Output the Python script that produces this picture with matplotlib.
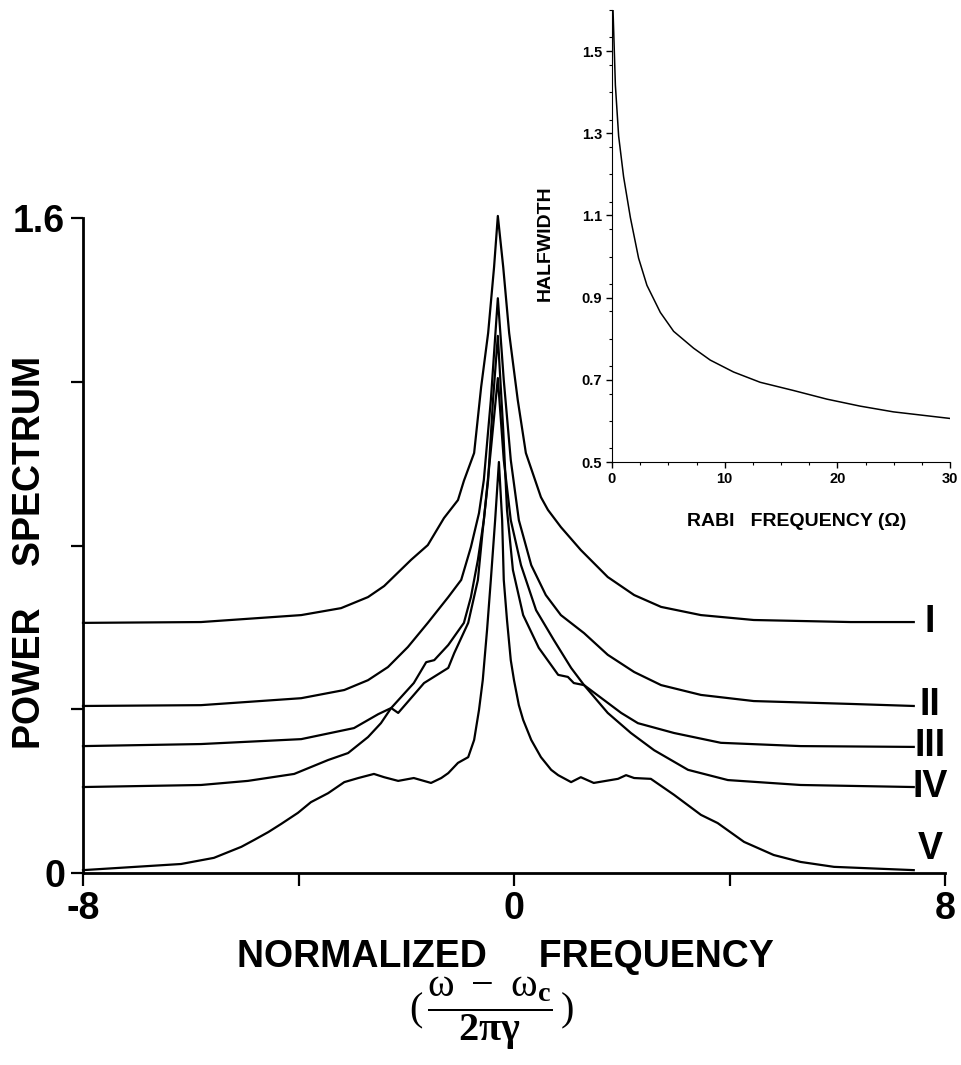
import matplotlib
matplotlib.use("Agg")
import matplotlib.pyplot as plt
from matplotlib.ticker import MultipleLocator

plt.rcParams['font.family'] = ['Liberation Sans', 'DejaVu Sans']
plt.rcParams['mathtext.fontset'] = 'custom'
plt.rcParams['mathtext.rm'] = 'Liberation Serif'
plt.rcParams['mathtext.it'] = 'Liberation Serif'
plt.rcParams['mathtext.bf'] = 'Liberation Serif:bold'

# ---- main spectra (normalized frequency, power) ----
x_I = [-8.0, -5.81, -3.95, -3.21, -2.71, -2.41, -1.91, -1.60, -1.30, -1.04, -0.93, -0.74, -0.61,
       -0.48, -0.37, -0.30, -0.20, -0.09, 0.07, 0.22, 0.50, 0.63, 0.87, 1.24, 1.74, 2.23, 2.73,
       3.47, 4.45, 6.25, 7.42]
y_I = [0.611, 0.613, 0.630, 0.647, 0.674, 0.701, 0.765, 0.801, 0.867, 0.911, 0.958, 1.026, 1.187,
       1.319, 1.480, 1.605, 1.480, 1.319, 1.155, 1.026, 0.918, 0.887, 0.845, 0.789, 0.723, 0.679,
       0.650, 0.630, 0.618, 0.613, 0.613]

x_II = [-8.0, -5.81, -3.95, -3.15, -2.71, -2.34, -1.97, -1.60, -1.22, -0.98, -0.80, -0.65, -0.56,
        -0.43, -0.30, -0.19, -0.06, 0.09, 0.32, 0.59, 0.87, 1.30, 1.74, 2.23, 2.73, 3.47, 4.45,
        6.25, 7.42]
y_II = [0.408, 0.410, 0.427, 0.447, 0.471, 0.503, 0.552, 0.611, 0.674, 0.716, 0.796, 0.879, 0.960,
        1.155, 1.404, 1.204, 1.009, 0.862, 0.752, 0.679, 0.630, 0.586, 0.533, 0.491, 0.459, 0.435,
        0.420, 0.413, 0.408]

x_III = [-8.0, -5.81, -3.95, -2.97, -2.52, -2.28, -2.15, -1.86, -1.67, -1.22, -1.11, -0.85, -0.67,
         -0.58, -0.48, -0.39, -0.30, -0.20, -0.13, -0.02, 0.17, 0.46, 0.82, 1.00, 1.11, 1.30, 1.99,
         2.30, 2.97, 3.84, 5.32, 7.42]
y_III = [0.310, 0.315, 0.327, 0.354, 0.388, 0.403, 0.391, 0.435, 0.464, 0.501, 0.537, 0.611, 0.716,
         0.838, 0.960, 1.155, 1.312, 1.082, 0.887, 0.740, 0.630, 0.550, 0.484, 0.479, 0.464, 0.459,
         0.391, 0.366, 0.342, 0.318, 0.310, 0.308]

x_IV = [-8.0, -5.81, -4.94, -4.08, -3.45, -3.08, -2.71, -2.47, -2.28, -1.86, -1.63, -1.48, -1.22,
        -0.93, -0.80, -0.67, -0.56, -0.43, -0.30, -0.19, -0.06, 0.13, 0.41, 0.74, 1.06, 1.30, 1.74,
        2.17, 2.60, 3.23, 3.97, 5.32, 7.42]
y_IV = [0.210, 0.215, 0.225, 0.242, 0.276, 0.293, 0.332, 0.366, 0.403, 0.464, 0.515, 0.520, 0.557,
        0.611, 0.674, 0.765, 0.862, 1.033, 1.209, 1.009, 0.862, 0.752, 0.642, 0.569, 0.501, 0.459,
        0.391, 0.342, 0.300, 0.252, 0.227, 0.215, 0.210]

x_V = [-8.0, -6.18, -5.57, -5.06, -4.82, -4.56, -4.32, -4.01, -3.77, -3.45, -3.15, -2.89, -2.60,
       -2.41, -2.15, -1.86, -1.54, -1.35, -1.22, -1.04, -0.85, -0.74, -0.65, -0.58, -0.50, -0.43,
       -0.35, -0.28, -0.22, -0.19, -0.13, -0.06, 0.00, 0.09, 0.17, 0.32, 0.50, 0.69, 0.82, 1.06,
       1.24, 1.48, 1.93, 2.08, 2.23, 2.54, 2.97, 3.47, 3.78, 4.27, 4.82, 5.32, 5.94, 7.42]
y_V = [0.007, 0.022, 0.037, 0.064, 0.081, 0.100, 0.120, 0.147, 0.173, 0.195, 0.222, 0.232, 0.242,
       0.234, 0.225, 0.232, 0.220, 0.232, 0.244, 0.269, 0.283, 0.325, 0.398, 0.471, 0.594, 0.716,
       0.862, 1.004, 0.862, 0.716, 0.618, 0.520, 0.471, 0.410, 0.374, 0.325, 0.283, 0.252, 0.239,
       0.222, 0.234, 0.220, 0.230, 0.239, 0.232, 0.230, 0.191, 0.142, 0.122, 0.076, 0.044, 0.027,
       0.015, 0.007]

curve_labels = ['I', 'II', 'III', 'IV', 'V']
label_levels = [0.613, 0.410, 0.310, 0.210, 0.058]

x_ticks = [-8, -4, 0, 4, 8]
x_ticklabels = ['-8', '', '0', '', '8']
y_ticks = [0, 0.4, 0.8, 1.2, 1.6]
y_ticklabels = ['0', '', '', '', '1.6']

# ---- inset: halfwidth vs Rabi frequency ----
rabi = [0.05, 0.09, 0.3, 0.59, 1.03, 1.63, 2.36, 3.10, 4.29, 5.47, 7.24, 8.72, 10.79, 13.15,
        16.11, 19.07, 22.02, 24.98, 30.0]
halfwidth = [1.66, 1.60, 1.417, 1.293, 1.194, 1.095, 0.996, 0.930, 0.864, 0.818, 0.777, 0.748,
             0.719, 0.694, 0.674, 0.653, 0.636, 0.622, 0.606]
inset_xticks = [0, 10, 20, 30]
inset_yticks = [0.5, 0.7, 0.9, 1.1, 1.3, 1.5]

W, H = 961, 1065
fig = plt.figure(figsize=(W / 100, H / 100), dpi=100)

ax = fig.add_axes([83 / W, 1 - 873 / H, (945 - 83) / W, (873 - 218) / H])
for xs, ys in [(x_I, y_I), (x_II, y_II), (x_III, y_III), (x_IV, y_IV), (x_V, y_V)]:
    ax.plot(xs, ys, color='black', lw=1.6, clip_on=False, solid_joinstyle='round')
ax.set_xlim(-8, 8)
ax.set_ylim(0, 1.6)
for s in ['top', 'right']:
    ax.spines[s].set_visible(False)
for s in ['left', 'bottom']:
    ax.spines[s].set_linewidth(2.0)
ax.set_xticks(x_ticks)
ax.set_xticklabels(x_ticklabels)
ax.set_yticks(y_ticks)
ax.set_yticklabels(y_ticklabels)
ax.tick_params(axis='both', direction='out', length=9, width=1.6, labelsize=27, pad=4)
for lab in ax.get_xticklabels() + ax.get_yticklabels():
    lab.set_fontweight('bold')
for name, lev in zip(curve_labels, label_levels):
    ax.text(7.72, lev, name, ha='center', va='center', fontsize=27, fontweight='bold')

fig.text(30 / W, 1 - 552 / H, 'POWER    SPECTRUM', rotation=90, ha='center', va='center',
         fontsize=27, fontweight='bold')
fig.text(505 / W, 1 - 957 / H, 'NORMALIZED     FREQUENCY', ha='center', va='center',
         fontsize=27, fontweight='bold')
fig.text(492 / W, 1 - 1013 / H,
         r'$\mathrm{(\,\dfrac{\omega\ -\ \omega_{\mathbf{c}}}{\mathbf{2\pi\gamma}}\,)}$',
         ha='center', va='center', fontsize=29)

# inset
ia = fig.add_axes([612 / W, 1 - 462 / H, (950 - 612) / W, (462 - 10) / H])
ia.plot(rabi, halfwidth, color='black', lw=1.1)
ia.set_xlim(0, 30)
ia.set_ylim(0.5, 1.6)
for s in ['top', 'right']:
    ia.spines[s].set_visible(False)
ia.set_xticks(inset_xticks)
ia.set_yticks(inset_yticks)
ia.set_yticklabels(['%.1f' % v for v in inset_yticks])
ia.xaxis.set_minor_locator(MultipleLocator(2.5))
ia.yaxis.set_minor_locator(MultipleLocator(0.2 / 3))
ia.tick_params(axis='both', which='major', direction='out', length=4, width=1, labelsize=10.5, pad=3)
ia.tick_params(axis='both', which='minor', direction='out', length=2, width=0.8)
for lab in ia.get_xticklabels() + ia.get_yticklabels():
    lab.set_fontweight('bold')
fig.text(545 / W, 1 - 243 / H, 'HALFWIDTH', rotation=90, ha='center', va='center',
         fontsize=14, fontweight='bold')
fig.text(797 / W, 1 - 521 / H, 'RABI   FREQUENCY (\u03a9)', ha='center', va='center',
         fontsize=14, fontweight='bold')

fig.savefig('out.png', dpi=100)
